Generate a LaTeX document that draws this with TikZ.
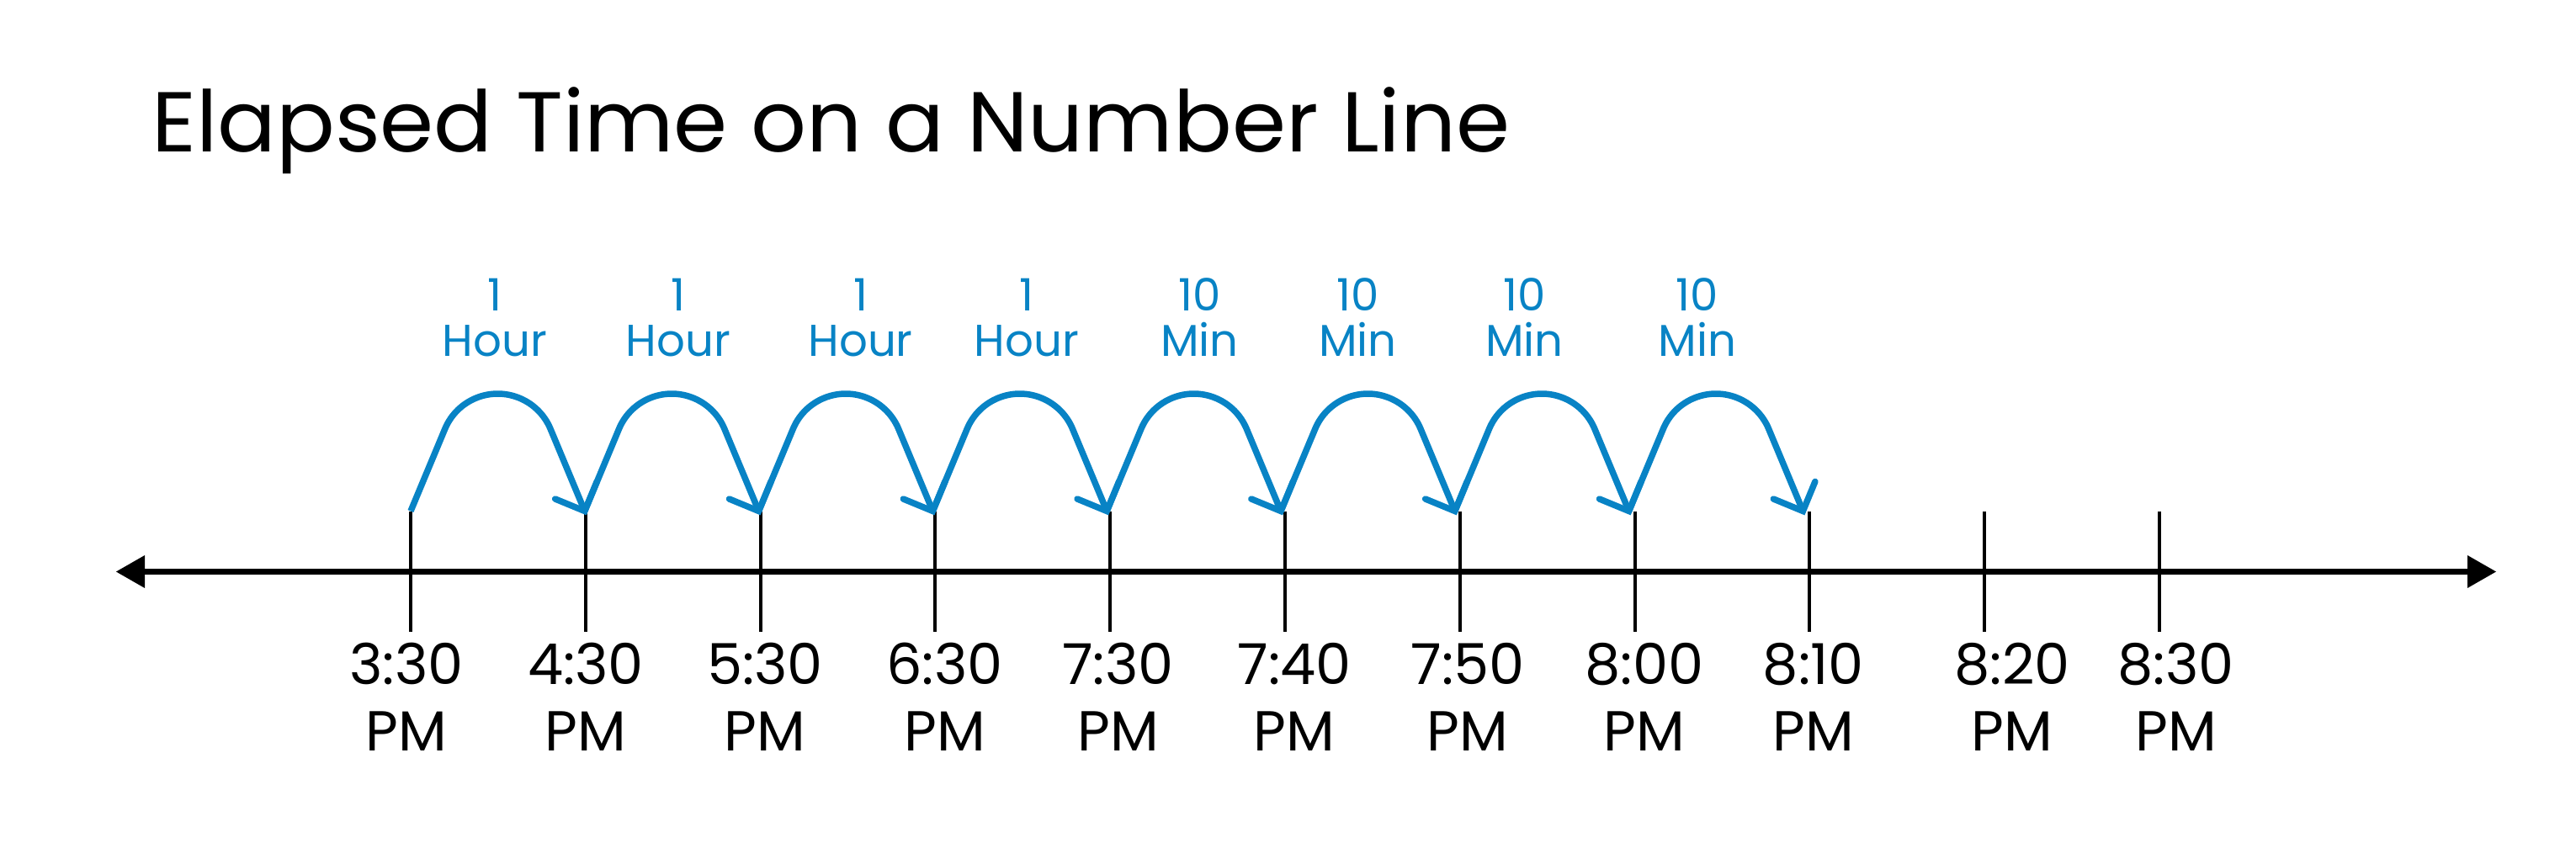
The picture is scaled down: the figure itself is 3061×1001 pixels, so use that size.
\documentclass[tikz,border=0pt]{standalone}
\usepackage{fontspec}
\setmainfont{Poppins}
\newfontfamily\titlefont[FakeStretch=1.022]{Poppins}
\definecolor{hopblue}{RGB}{8,131,197}
\begin{document}
\begin{tikzpicture}[x=1pt,y=1pt,
  tickline/.style={black,line width=4pt},
  axisline/.style={black,line width=7pt},
  hop/.style={hopblue,line width=7.5pt,line join=round},
  barb/.style={hopblue,line width=7.5pt,line cap=round,line join=miter},
  timelabel/.style={font=\fontsize{67}{79}\selectfont,align=center,anchor=south,inner sep=0pt},
  hoplabel/.style={text=hopblue,font=\fontsize{53}{54}\selectfont,align=center,anchor=south,inner sep=0pt},
  titletext/.style={font=\titlefont\fontsize{101}{101}\selectfont,anchor=base west,inner sep=0pt}]
\useasboundingbox (0,0) rectangle (3061,1001);
\fill[white] (0,0) rectangle (3061,1001);

% title
\node[titletext] (title) at (180,820) {Elapsed Time on a Number Line};

% axis
\coordinate (axL) at (138,321.5);
\coordinate (axR) at (2966,321.5);
\draw[axisline] ([xshift=30pt]axL) -- ([xshift=-30pt]axR);
\fill (axL) -- ++(34,19.5) -- ++(0,-39) -- cycle;
\fill (axR) -- ++(-34,19.5) -- ++(0,-39) -- cycle;

% ticks
\foreach \i in {0,...,10}{
  \coordinate (tt\i) at ({488+207.8*\i},393.4);
  \coordinate (tb\i) at ({488+207.8*\i},250.2);
  \draw[tickline] (tt\i) -- (tb\i);
}

% hops
\foreach \k in {0,...,7}{
  \coordinate (hs\k) at ({488+206.8*\k},393.5);
  \coordinate (ht\k) at ({488+206.8*(\k+1)},393.5);
  \draw[hop] (hs\k) -- ++(40.9,98.1) arc[start angle=157,end angle=23,radius=67.9] -- (ht\k);
  \draw[barb] ([shift={(157.6:38)}]ht\k) -- (ht\k) -- ([shift={(67.6:38)}]ht\k);
}

% time labels
\foreach \t/\x [count=\n] in {3:30/483,4:30/696,5:30/909,6:30/1122.5,7:30/1328.5,7:40/1538,7:50/1744,8:00/1954,8:10/2155,8:20/2391,8:30/2585.5}{
  \node[timelabel] (lab\n) at (\x,108) {\t\\PM};
}

% hop labels
\foreach \a/\b/\x [count=\n] in {1/Hour/588,1/Hour/806,1/Hour/1022.6,1/Hour/1219.7,10/Min/1425.5,10/Min/1613.5,10/Min/1811.5,10/Min/2016.7}{
  \node[hoplabel] (hl\n) at (\x,577) {\a\\\b};
}
\end{tikzpicture}
\end{document}
